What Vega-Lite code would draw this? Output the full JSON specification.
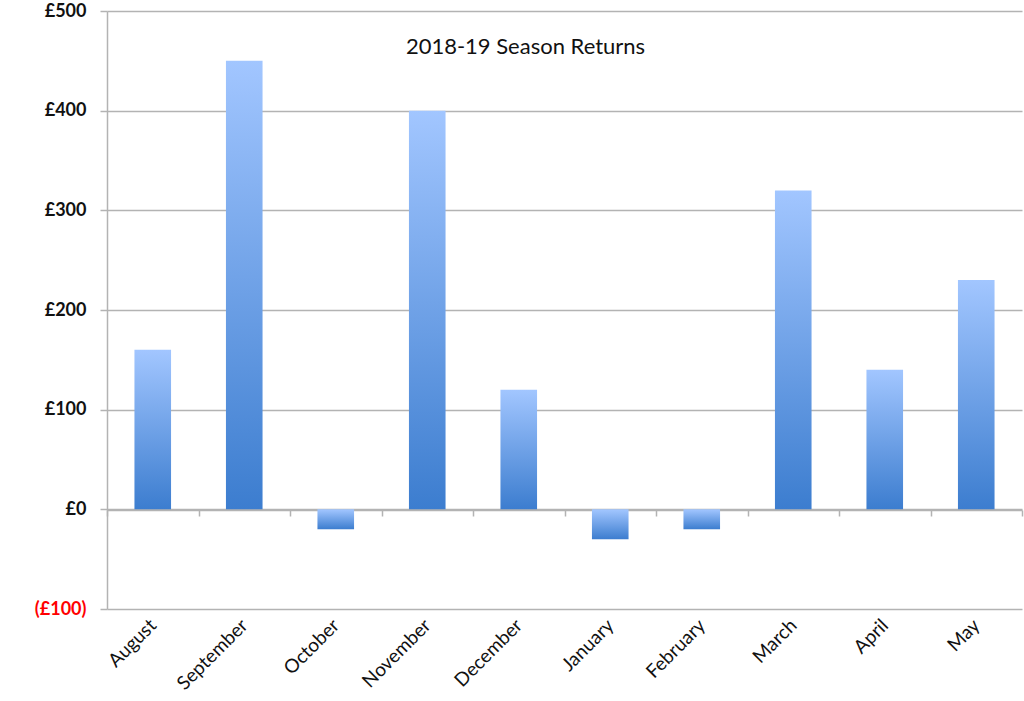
{
  "$schema": "https://vega.github.io/schema/vega-lite/v6.json",
  "autosize": {"type": "none"},
  "padding": {"left": 107, "top": 11, "right": 2, "bottom": 92},
  "width": 915,
  "height": 598,
  "background": "white",
  "title": {
    "text": "2018-19 Season Returns",
    "orient": "top",
    "anchor": "middle",
    "offset": -57,
    "dx": -39,
    "font": "Lato",
    "fontSize": 22,
    "fontWeight": "normal",
    "color": "#111111"
  },
  "data": {
    "values": [
      {"month": "August", "returns": 160},
      {"month": "September", "returns": 450},
      {"month": "October", "returns": -20},
      {"month": "November", "returns": 400},
      {"month": "December", "returns": 120},
      {"month": "January", "returns": -30},
      {"month": "February", "returns": -20},
      {"month": "March", "returns": 320},
      {"month": "April", "returns": 140},
      {"month": "May", "returns": 230}
    ]
  },
  "mark": {
    "type": "bar",
    "width": {"band": 0.4},
    "color": {
      "gradient": "linear",
      "x1": 0, "y1": 0, "x2": 0, "y2": 1,
      "stops": [
        {"offset": 0, "color": "#A2C6FF"},
        {"offset": 1, "color": "#3C7DCF"}
      ]
    }
  },
  "encoding": {
    "x": {
      "field": "month",
      "type": "nominal",
      "sort": null,
      "scale": {"paddingInner": 0, "paddingOuter": 0},
      "axis": {
        "title": null,
        "offset": -99,
        "domain": true,
        "domainColor": "#b3b3b3",
        "domainWidth": 1.5,
        "ticks": true,
        "tickBand": "extent",
        "tickColor": "#b3b3b3",
        "tickSize": 6,
        "tickWidth": 1.5,
        "grid": false,
        "labelAngle": -45,
        "labelAlign": "right",
        "labelBaseline": "middle",
        "labelPadding": 106,
        "labelFont": "Lato",
        "labelFontSize": 19,
        "labelColor": "#111111"
      }
    },
    "y": {
      "field": "returns",
      "type": "quantitative",
      "scale": {"domain": [-100, 500], "nice": false},
      "axis": {
        "title": null,
        "values": [-100, 0, 100, 200, 300, 400, 500],
        "labelExpr": "datum.value < 0 ? '(£' + abs(datum.value) + ')' : '£' + datum.value",
        "labelColor": {"condition": {"test": "datum.value < 0", "value": "#ff0000"}, "value": "#111111"},
        "labelFont": "Lato",
        "labelFontSize": 18,
        "labelFontWeight": "bold",
        "labelPadding": 14,
        "domainColor": "#b3b3b3",
        "domainWidth": 1.5,
        "tickColor": "#b3b3b3",
        "tickSize": 7,
        "tickWidth": 1.5,
        "grid": true,
        "gridColor": "#b3b3b3",
        "gridWidth": 1.5
      }
    }
  },
  "config": {"view": {"stroke": null}}
}
